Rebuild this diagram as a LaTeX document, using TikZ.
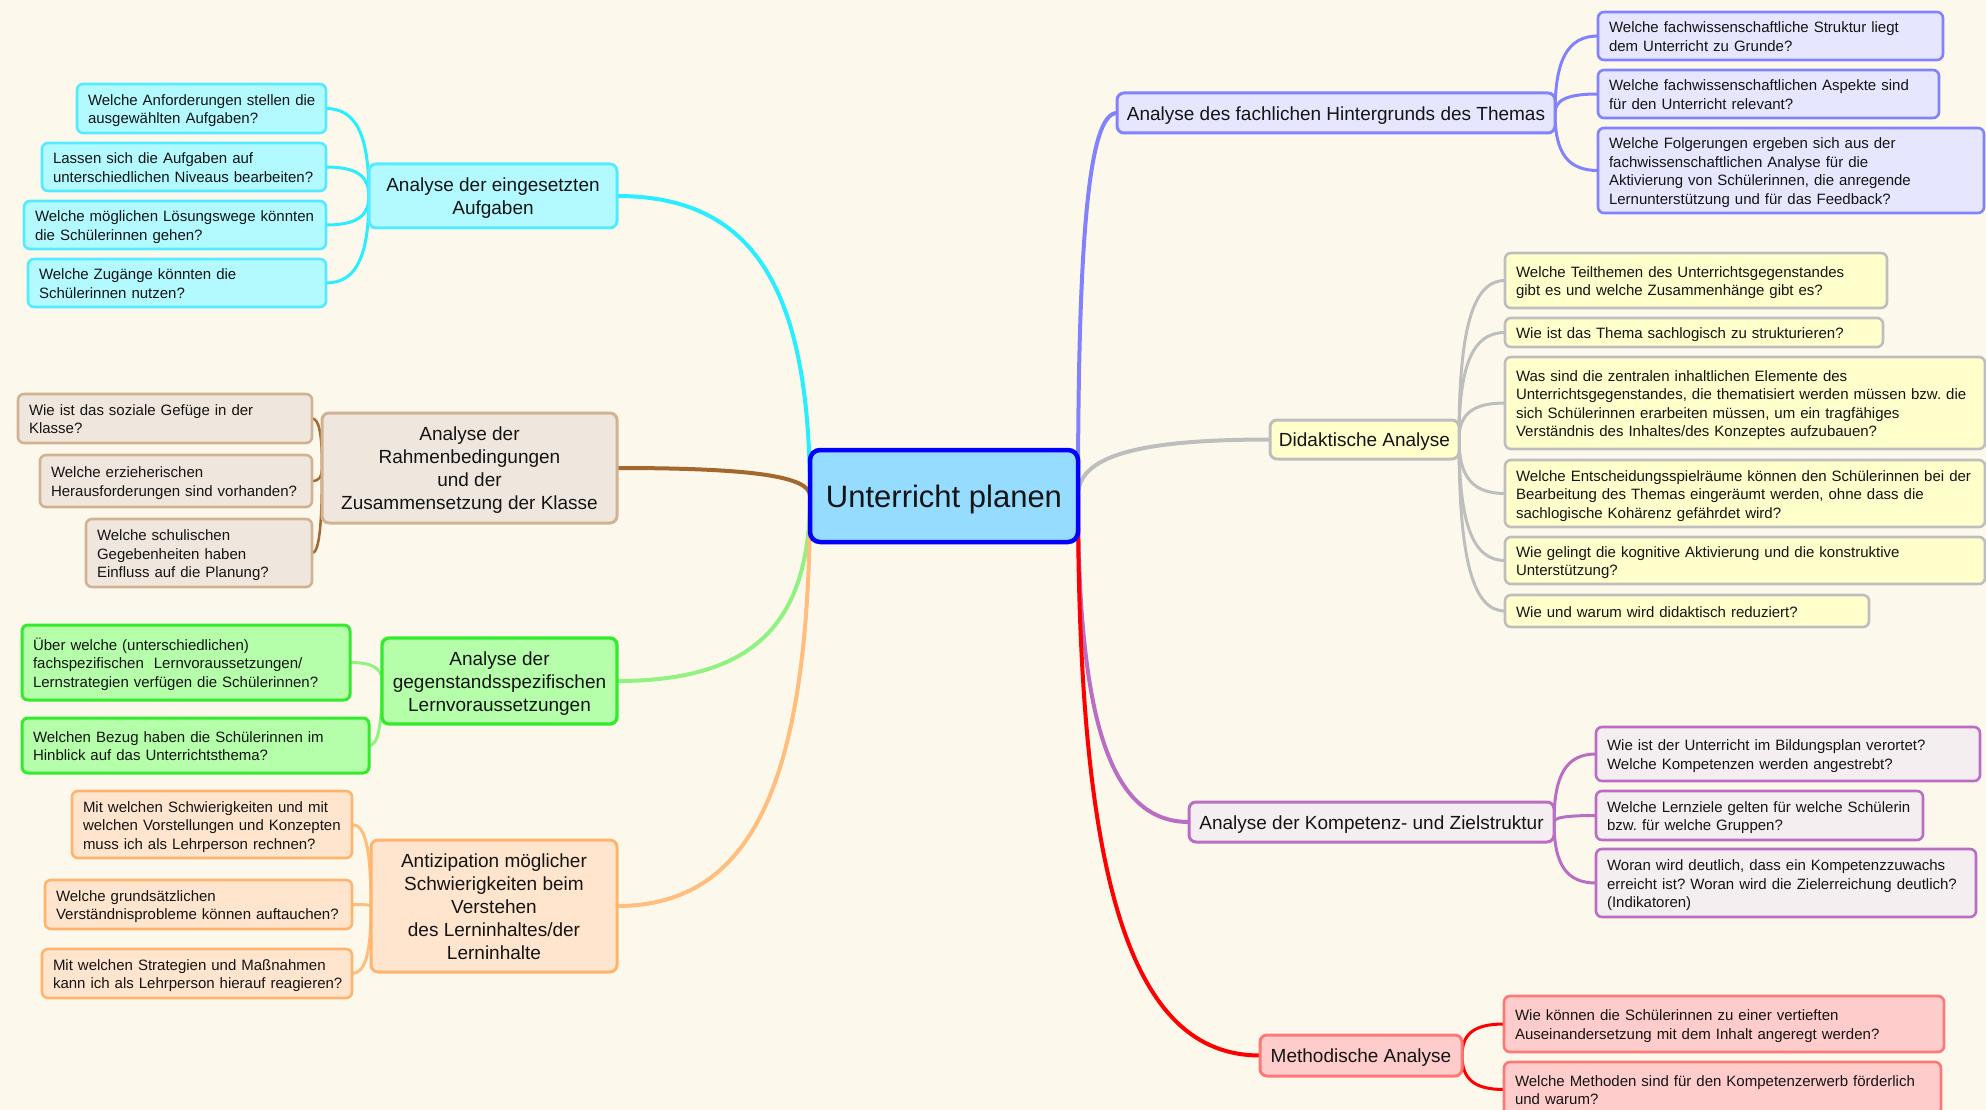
\documentclass[tikz,border=0pt]{standalone}
\usepackage{fontspec}
\setmainfont{Liberation Sans}
\usetikzlibrary{calc}
\frenchspacing
\definecolor{bgc}{RGB}{252,249,236}
\definecolor{txt}{RGB}{20,20,20}
\definecolor{cyF}{RGB}{178,250,255}\definecolor{cyD}{RGB}{85,235,255}\definecolor{cyL}{RGB}{40,238,255}
\definecolor{brF}{RGB}{239,231,221}\definecolor{brD}{RGB}{210,178,148}\definecolor{brL}{RGB}{163,104,45}
\definecolor{grF}{RGB}{182,255,170}\definecolor{grD}{RGB}{50,235,45}\definecolor{grL}{RGB}{145,242,130}
\definecolor{orF}{RGB}{255,228,206}\definecolor{orD}{RGB}{255,180,110}\definecolor{orL}{RGB}{255,190,125}
\definecolor{peF}{RGB}{230,230,255}\definecolor{peD}{RGB}{130,130,255}
\definecolor{yeF}{RGB}{255,255,204}\definecolor{yeD}{RGB}{190,190,190}
\definecolor{puF}{RGB}{245,238,240}\definecolor{puD}{RGB}{185,110,195}
\definecolor{reF}{RGB}{255,204,204}\definecolor{reD}{RGB}{255,120,120}\definecolor{reL}{RGB}{255,0,0}
\definecolor{ctF}{RGB}{150,220,255}\definecolor{ctD}{RGB}{0,0,255}
\pgfdeclarelayer{bgl}
\pgfdeclarelayer{edges}
\pgfsetlayers{bgl,edges,main}
\newcommand\smtab[1]{\raisebox{-2.5pt}[\height][\depth]{\begin{tabular}{@{}l@{}}#1\end{tabular}}}
\newcommand\mtab[1]{\raisebox{-2.5pt}[\height][\depth]{\begin{tabular}{@{}c@{}}#1\end{tabular}}}
\newcommand\qbox[7]{%
  \pgfmathsetmacro\qw{#5-(#3)}\pgfmathsetmacro\qh{#6-(#4)}\pgfmathsetmacro\qt{#5-(#3)-22}%
  \node[#1, minimum width=\qw pt, minimum height=\qh pt, text width=\qt pt] (#2) at (#3,#4) {\smtab{#7}};}
\newcommand\mnode[7]{%
  \pgfmathsetmacro\qw{#5-(#3)}\pgfmathsetmacro\qh{#6-(#4)}%
  \node[#1, minimum width=\qw pt, minimum height=\qh pt] (#2) at (#3,#4) {\mtab{#7}};}
\newcommand\lnk[4][0.7]{%
  \path (#4 -| #3) coordinate (tmpk);
  \draw[#2] (#3) .. controls ($(#3)!#1!(tmpk)$) and ($(#4)!#1!(tmpk)$) .. (#4);}
\tikzset{
  qb/.style={draw, anchor=north west, rounded corners=6pt, inner xsep=10pt, inner ysep=0pt, outer sep=0pt, line width=2.6pt, font=\fontsize{15}{18.5}\selectfont, align=left, text=txt},
  mb/.style={draw, anchor=north west, rounded corners=7pt, inner sep=3pt, outer sep=0pt, line width=3pt, font=\fontsize{19}{23}\selectfont, text=txt},
  cyq/.style={qb, fill=cyF, draw=cyD}, cym/.style={mb, fill=cyF, draw=cyD},
  brq/.style={qb, fill=brF, draw=brD}, brm/.style={mb, fill=brF, draw=brD},
  grq/.style={qb, fill=grF, draw=grD, line width=3pt}, grm/.style={mb, fill=grF, draw=grD, line width=3.4pt},
  orq/.style={qb, fill=orF, draw=orD}, orm/.style={mb, fill=orF, draw=orD},
  peq/.style={qb, fill=peF, draw=peD}, pem/.style={mb, fill=peF, draw=peD},
  yeq/.style={qb, fill=yeF, draw=yeD}, yem/.style={mb, fill=yeF, draw=yeD},
  puq/.style={qb, fill=puF, draw=puD}, pum/.style={mb, fill=puF, draw=puD},
  req/.style={qb, fill=reF, draw=reD}, rem/.style={mb, fill=reF, draw=reD},
  ctr/.style={draw=ctD, fill=ctF, anchor=north west, rounded corners=10pt, line width=4.5pt, outer sep=0pt, font=\fontsize{31}{37}\selectfont, text=txt, minimum width=268pt, minimum height=92pt},
  ce/.style={line width=3pt, line cap=round},
  me/.style={line width=4pt, line cap=round}
}
\begin{document}
\begin{tikzpicture}[x=1pt,y=-1pt]
\useasboundingbox (0,0) rectangle (1986,1110);
\begin{pgfonlayer}{bgl}
  \fill[bgc] (0,0) rectangle (1986,1110);
\end{pgfonlayer}

% centre
\node[ctr] (U) at (810,450) {\raisebox{-3pt}[\height][\depth]{Unterricht planen}};

% cyan group
\mnode{cym}{cA}{369}{164}{617}{228}{Analyse der eingesetzten\\Aufgaben}
\qbox{cyq}{c1}{77}{84}{326}{133}{Welche Anforderungen stellen die\\ausgewählten Aufgaben?}
\qbox{cyq}{c2}{42}{143}{326}{191}{Lassen sich die Aufgaben auf\\unterschiedlichen Niveaus bearbeiten?}
\qbox{cyq}{c3}{24}{201}{326}{249}{Welche möglichen Lösungswege könnten\\die Schülerinnen gehen?}
\qbox{cyq}{c4}{28}{259}{326}{307}{Welche Zugänge könnten die\\Schülerinnen nutzen?}

% brown group
\mnode{brm}{bA}{322}{413}{617}{523}{Analyse der\\Rahmenbedingungen\\und der\\Zusammensetzung der Klasse}
\qbox{brq}{b1}{18}{394}{312}{443}{Wie ist das soziale Gefüge in der\\Klasse?}
\qbox{brq}{b2}{40}{455}{312}{507}{Welche erzieherischen\\Herausforderungen sind vorhanden?}
\qbox{brq}{b3}{86}{519}{312}{587}{Welche schulischen\\Gegebenheiten haben\\Einfluss auf die Planung?}

% green group
\mnode{grm}{gA}{382}{638}{617}{724}{Analyse der\\gegenstandsspezifischen\\Lernvoraussetzungen}
\qbox{grq}{g1}{22}{625}{350}{700}{Über welche (unterschiedlichen)\\fachspezifischen\ \ Lernvoraussetzungen/\\Lernstrategien verfügen die Schülerinnen?}
\qbox{grq}{g2}{22}{718}{369}{773}{Welchen Bezug haben die Schülerinnen im\\Hinblick auf das Unterrichtsthema?}

% orange group
\mnode{orm}{oA}{371}{840}{617}{972}{Antizipation möglicher\\Schwierigkeiten beim\\Verstehen\\des Lerninhaltes/der\\Lerninhalte}
\qbox{orq}{o1}{72}{791}{352}{858}{Mit welchen Schwierigkeiten und mit\\welchen Vorstellungen und Konzepten\\muss ich als Lehrperson rechnen?}
\qbox{orq}{o2}{45}{880}{352}{929}{Welche grundsätzlichen\\Verständnisprobleme können auftauchen?}
\qbox{orq}{o3}{42}{949}{352}{998}{Mit welchen Strategien und Maßnahmen\\kann ich als Lehrperson hierauf reagieren?}

% periwinkle group
\mnode{pem}{pA}{1117}{93}{1555}{133}{Analyse des fachlichen Hintergrunds des Themas}
\qbox{peq}{p1}{1598}{12}{1943}{60}{Welche fachwissenschaftliche Struktur liegt\\dem Unterricht zu Grunde?}
\qbox{peq}{p2}{1598}{70}{1939}{118}{Welche fachwissenschaftlichen Aspekte sind\\für den Unterricht relevant?}
\qbox{peq}{p3}{1598}{128}{1984}{213}{Welche Folgerungen ergeben sich aus der\\fachwissenschaftlichen Analyse für die\\Aktivierung von Schülerinnen, die anregende\\Lernunterstützung und für das Feedback?}

% yellow / grey group
\mnode{yem}{dA}{1270}{420}{1459}{459}{Didaktische Analyse}
\qbox{yeq}{d1}{1505}{253}{1887}{308}{Welche Teilthemen des Unterrichtsgegenstandes\\gibt es und welche Zusammenhänge gibt es?}
\qbox{yeq}{d2}{1505}{318}{1883}{347}{Wie ist das Thema sachlogisch zu strukturieren?}
\qbox{yeq}{d3}{1505}{357}{1985}{449}{Was sind die zentralen inhaltlichen Elemente des\\Unterrichtsgegenstandes, die thematisiert werden müssen bzw. die\\sich Schülerinnen erarbeiten müssen, um ein tragfähiges\\Verständnis des Inhaltes/des Konzeptes aufzubauen?}
\qbox{yeq}{d4}{1505}{460}{1985}{527}{Welche Entscheidungsspielräume können den Schülerinnen bei der\\Bearbeitung des Themas eingeräumt werden, ohne dass die\\sachlogische Kohärenz gefährdet wird?}
\qbox{yeq}{d5}{1505}{537}{1985}{584}{Wie gelingt die kognitive Aktivierung und die konstruktive\\Unterstützung?}
\qbox{yeq}{d6}{1505}{595}{1869}{627}{Wie und warum wird didaktisch reduziert?}

% purple group
\mnode{pum}{kA}{1189}{802}{1554}{842}{Analyse der Kompetenz- und Zielstruktur}
\qbox{puq}{k1}{1596}{727}{1980}{781}{Wie ist der Unterricht im Bildungsplan verortet?\\Welche Kompetenzen werden angestrebt?}
\qbox{puq}{k2}{1596}{791}{1923}{840}{Welche Lernziele gelten für welche Schülerin\\bzw. für welche Gruppen?}
\qbox{puq}{k3}{1596}{849}{1976}{917}{Woran wird deutlich, dass ein Kompetenzzuwachs\\erreicht ist? Woran wird die Zielerreichung deutlich?\\(Indikatoren)}

% red group
\mnode{rem}{rA}{1260}{1035}{1462}{1076}{Methodische Analyse}
\qbox{req}{r1}{1504}{996}{1944}{1052}{Wie können die Schülerinnen zu einer vertieften\\Auseinandersetzung mit dem Inhalt angeregt werden?}
\qbox{req}{r2}{1504}{1062}{1941}{1117}{Welche Methoden sind für den Kompetenzerwerb förderlich\\und warum?}

\begin{pgfonlayer}{edges}
  % main connectors
  \lnk{me, draw=cyL}{U.west}{cA.east}
  \lnk{me, draw=brL}{U.west}{bA.east}
  \lnk{me, draw=grL}{U.west}{gA.east}
  \lnk{me, draw=orL}{U.west}{oA.east}
  \lnk{me, draw=peD}{U.east}{pA.west}
  \lnk{me, draw=yeD}{U.east}{dA.west}
  \lnk{me, draw=puD}{U.east}{kA.west}
  \lnk{me, draw=reL}{U.east}{rA.west}
  % child connectors
  \foreach \c in {c1,c2,c3,c4}{\lnk{ce, draw=cyL}{cA.west}{\c.east}}
  \foreach \c in {b1,b2,b3}{\lnk{ce, line width=2.5pt, draw=brL}{bA.west}{\c.east}}
  \foreach \c in {g1,g2}{\lnk{ce, draw=grL}{gA.west}{\c.east}}
  \foreach \c in {o1,o2,o3}{\lnk{ce, draw=orL}{oA.west}{\c.east}}
  \foreach \c in {p1,p2,p3}{\lnk{ce, draw=peD}{pA.east}{\c.west}}
  \foreach \c in {d1,d2,d3,d4,d5,d6}{\lnk{ce, draw=yeD}{dA.east}{\c.west}}
  \foreach \c in {k1,k2,k3}{\lnk{ce, draw=puD}{kA.east}{\c.west}}
  \foreach \c in {r1,r2}{\lnk{ce, draw=reL}{rA.east}{\c.west}}
\end{pgfonlayer}
\end{tikzpicture}
\end{document}
